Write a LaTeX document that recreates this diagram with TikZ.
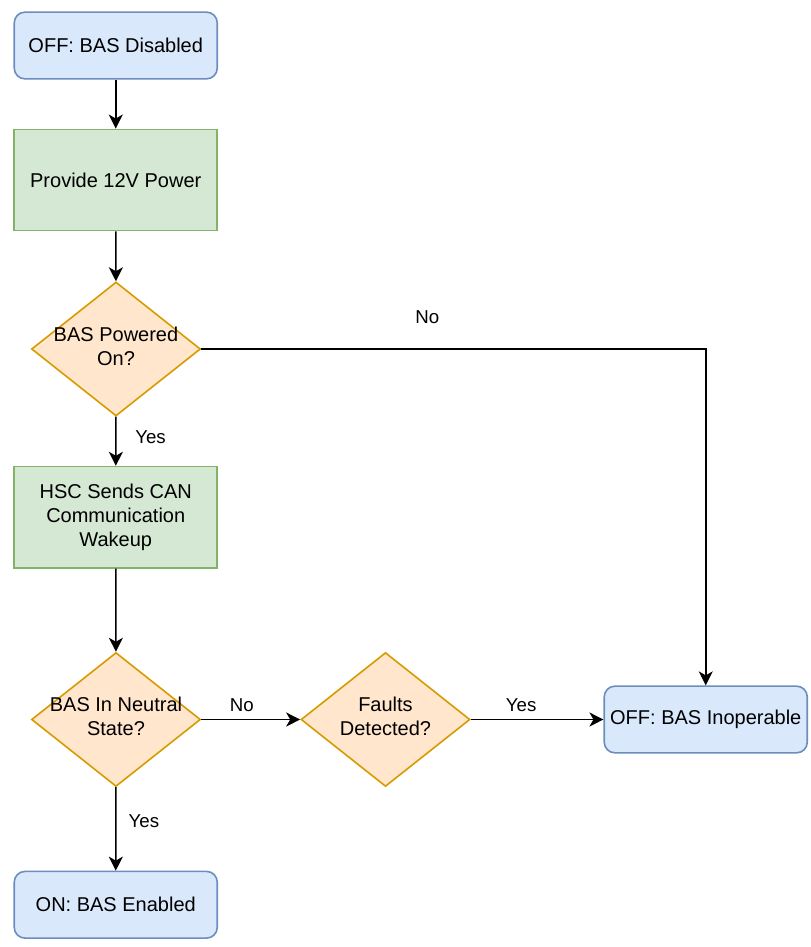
\documentclass[tikz,border=0pt]{standalone}
\usepackage{fontspec}
\setmainfont{Liberation Sans}
\usetikzlibrary{shapes.geometric,arrows.meta}

\definecolor{bluefill}{HTML}{DAE8FC}
\definecolor{bluestroke}{HTML}{6C8EBF}
\definecolor{greenfill}{HTML}{D5E8D4}
\definecolor{greenstroke}{HTML}{82B366}
\definecolor{orangefill}{HTML}{FFE6CC}
\definecolor{orangestroke}{HTML}{D79B00}

\tikzset{
  base/.style={inner sep=0pt, align=center, line width=1.2pt,
    font=\fontsize{15pt}{18pt}\selectfont},
  statebox/.style={base, draw=bluestroke, fill=bluefill, rounded corners=8pt,
    minimum width=152.25pt, minimum height=50pt},
  actionbox/.style={base, draw=greenstroke, fill=greenfill,
    minimum width=152.25pt, minimum height=76pt},
  decision/.style={diamond, draw=orangestroke, fill=orangefill, line width=1.2pt,
    inner sep=0pt, minimum width=126.75pt, minimum height=100.5pt},
  dtext/.style={inner sep=0pt, align=center, font=\fontsize{15pt}{18pt}\selectfont},
  conn/.style={line width=1.2pt, -{Stealth[length=10.5pt, width=10.5pt, inset=3pt]}},
  elabel/.style={inner sep=0pt, font=\fontsize{14pt}{17pt}\selectfont},
}

\begin{document}
\begin{tikzpicture}[x=0.75pt, y=-0.75pt]
  \useasboundingbox (0,0) rectangle (811,947);

  % states and actions
  \node[statebox] (off) at (115.75,45.5) {OFF: BAS Disabled};
  \node[actionbox] (power) at (115.75,180) {Provide 12V Power};
  \node[decision] (powered) at (116,349) {};
  \node[dtext] (poweredtxt) at (116,346) {BAS Powered\\On?};
  \node[actionbox] (wake) at (115.75,517.25) {HSC Sends CAN\\Communication\\Wakeup};
  \node[decision] (neutral) at (116,719.5) {};
  \node[dtext] (neutraltxt) at (116,716.5) {BAS In Neutral\\State?};
  \node[decision] (faults) at (385.5,719.5) {};
  \node[dtext] (faultstxt) at (385.5,716.5) {Faults\\Detected?};
  \node[statebox] (inop) at (705.75,719.5) {OFF: BAS Inoperable};
  \node[statebox] (on) at (115.75,904.75) {ON: BAS Enabled};

  % connectors
  \draw[conn] (off) -- (power);
  \draw[conn] (power) -- (powered);
  \draw[conn] (powered) -- node[elabel, pos=0.41, xshift=26pt] {Yes} (wake);
  \draw[conn] (powered.east) -| node[elabel, pos=0.224, yshift=24pt] {No} (inop.north);
  \draw[conn] (wake) -- (neutral);
  \draw[conn] (neutral) -- node[elabel, pos=0.41, yshift=11pt] {No} (faults);
  \draw[conn] (faults) -- node[elabel, pos=0.38, yshift=11pt] {Yes} (inop);
  \draw[conn] (neutral) -- node[elabel, pos=0.41, xshift=21pt] {Yes} (on);
\end{tikzpicture}
\end{document}
